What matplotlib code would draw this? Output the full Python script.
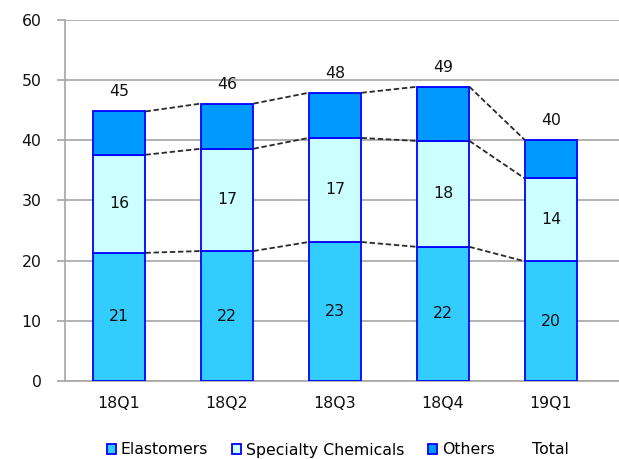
import numpy as np
import matplotlib.pyplot as plt
from matplotlib.patches import Patch
from matplotlib.lines import Line2D

# Quarterly figures by segment
quarters = ["18Q1", "18Q2", "18Q3", "18Q4", "19Q1"]
elastomers = [21.3, 21.6, 23.1, 22.3, 19.9]
specialty = [16.3, 17.0, 17.3, 17.6, 13.8]
others = [7.2, 7.5, 7.5, 9.0, 6.4]

c_elast = "#33CCFF"
c_spec = "#CCFFFF"
c_oth = "#0099FF"
edge = "#0000FF"
grid_c = "#A6A6A6"

plt.rcParams["font.family"] = "DejaVu Sans"
plt.rcParams["font.size"] = 11.3

fig = plt.figure(figsize=(6.19, 4.59), dpi=100)
ax = fig.add_axes([65 / 619, 78 / 459, 1 - 65 / 619, 361 / 459])

x = np.arange(len(quarters))
w = 0.49
e = np.array(elastomers)
s = np.array(specialty)
o = np.array(others)
total = e + s + o

ax.bar(x, e, w, color=c_elast, edgecolor=edge, linewidth=1.3, zorder=3)
ax.bar(x, s, w, bottom=e, color=c_spec, edgecolor=edge, linewidth=1.3, zorder=3)
ax.bar(x, o, w, bottom=e + s, color=c_oth, edgecolor=edge, linewidth=1.3, zorder=3)

# dashed connectors between neighbouring bars
for level in (e, e + s, total):
    for i in range(len(x) - 1):
        ax.plot([x[i] + w / 2, x[i + 1] - w / 2], [level[i], level[i + 1]],
                ls=(0, (3, 1.5)), color="#2a2a2a", lw=1.3, zorder=2)

# value labels
for i in range(len(x)):
    ax.text(x[i], e[i] / 2, f"{e[i]:.0f}", ha="center", va="center", color="#111111", zorder=4)
    ax.text(x[i], e[i] + s[i] / 2, f"{s[i]:.0f}", ha="center", va="center", color="#111111", zorder=4)
    ax.text(x[i], total[i] + 2.0, f"{total[i]:.0f}", ha="center", va="bottom", color="#111111", zorder=4)

ax.set_xlim(-0.5, -0.5 + (619 - 65) / 108)
ax.set_ylim(0, 60)
ax.set_yticks(range(0, 61, 10))
ax.set_xticks(x)
ax.set_xticklabels(quarters)
ax.tick_params(axis="x", length=0, pad=11, colors="#111111")
ax.tick_params(axis="y", length=6, width=1.2, color=grid_c, pad=11, labelcolor="#111111")
ax.yaxis.grid(True, color=grid_c, lw=1.2, zorder=0)
for side in ("top", "right"):
    ax.spines[side].set_visible(False)
ax.spines["left"].set_color(grid_c)
ax.spines["left"].set_linewidth(1.2)
ax.spines["bottom"].set_color(grid_c)
ax.spines["bottom"].set_linewidth(1.2)

handles = [
    Patch(facecolor=c_elast, edgecolor=edge, linewidth=1.3),
    Patch(facecolor=c_spec, edgecolor=edge, linewidth=1.3),
    Patch(facecolor=c_oth, edgecolor=edge, linewidth=1.3),
    Line2D([], [], color="none"),
]
fig.legend(handles, ["Elastomers", "Specialty Chemicals", "Others", "Total"],
           loc="center", bbox_to_anchor=(0.546, 1 - 450 / 459), ncol=4, frameon=False,
           handlelength=0.6, handleheight=0.6, handletextpad=0.3, columnspacing=1.5)

fig.savefig("out.png", dpi=100)
